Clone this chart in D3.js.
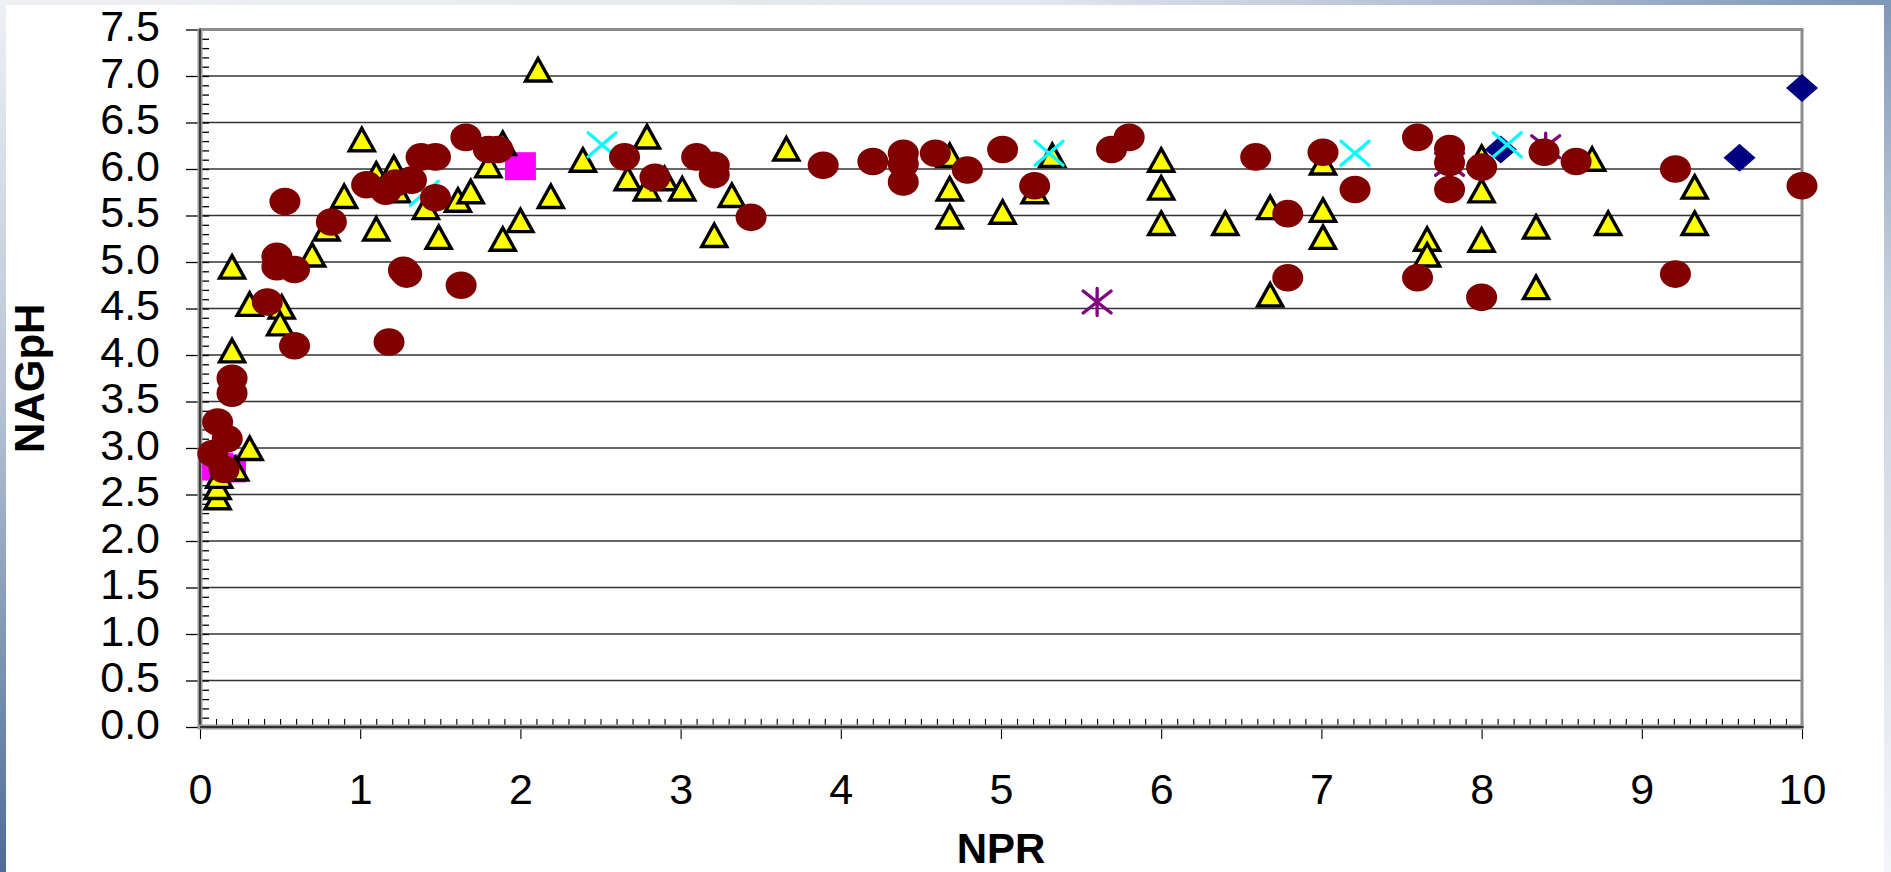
<!DOCTYPE html>
<html><head><meta charset="utf-8">
<script src="https://cdn.jsdelivr.net/npm/d3@7/dist/d3.min.js"></script>
<style>html,body{margin:0;padding:0;background:#fff;overflow:hidden}svg{display:block}</style>
</head><body>
<svg id="c" width="1891" height="872"></svg>
<script>
// ---- data ----
const xTickValues = [0,1,2,3,4,5,6,7,8,9,10];
const yTickValues = [0,0.5,1,1.5,2,2.5,3,3.5,4,4.5,5,5.5,6,6.5,7,7.5];
const xTitle = "NPR";
const yTitle = "NAGpH";

const diamondX = [8.12, 9.61, 10.0];
const diamondY = [6.21, 6.12, 6.87];

const squareX = [0.11, 0.19, 2.0];
const squareY = [2.80, 2.78, 6.03];

const triangleX = [0.11,0.11,0.12,0.22,0.31,0.20,0.20,0.31,0.51,0.50,0.70,0.79,0.90,1.01,1.10,1.21,1.23,1.10,1.41,1.49,1.61,1.69,1.89,1.80,2.00,1.89,2.19,2.11,2.39,2.79,2.67,2.79,2.90,3.01,3.32,3.21,3.66,4.68,4.68,4.68,5.01,5.21,5.32,6.00,6.00,6.00,6.40,6.68,6.68,7.01,7.01,7.01,7.66,7.66,8.00,8.00,8.00,8.34,8.34,8.69,8.79,9.33,9.33];
const triangleY = [2.47,2.58,2.70,2.78,3.00,4.05,4.95,4.55,4.52,4.34,5.08,5.36,5.71,6.32,5.95,6.02,5.77,5.36,5.59,5.27,5.67,5.76,6.28,6.04,5.45,5.25,5.71,7.07,6.10,6.35,5.90,5.79,5.90,5.79,5.72,5.29,6.22,6.15,5.79,5.49,5.54,5.76,6.15,6.10,5.80,5.42,5.42,5.59,4.65,6.07,5.56,5.27,5.25,5.08,6.13,5.77,5.24,5.38,4.73,6.11,5.42,5.81,5.42];

const crossX = [1.40, 2.51, 5.30, 7.21, 8.16];
const crossY = [5.74, 6.26, 6.17, 6.17, 6.26];

const starX = [5.60, 7.80, 8.40];
const starY = [4.57, 6.05, 6.24];

const circleX = [0.08,0.15,0.11,0.17,0.20,0.20,0.42,0.59,0.48,0.48,0.59,0.53,0.82,1.04,1.16,1.22,1.32,1.38,1.47,1.47,1.66,1.80,1.86,1.18,1.27,1.29,1.63,2.65,2.84,3.10,3.21,3.21,3.44,3.89,4.20,4.39,4.39,4.39,4.59,4.79,5.01,5.21,5.69,5.80,6.59,6.79,6.79,7.01,7.21,7.60,7.60,7.80,7.80,7.80,8.00,8.00,8.39,8.59,9.21,9.21,10.0];
const circleY = [2.94,2.77,3.28,3.10,3.59,3.75,4.57,4.10,5.06,4.95,4.92,5.65,5.43,5.83,5.76,5.85,5.88,6.13,6.13,5.69,6.34,6.21,6.21,4.14,4.91,4.87,4.75,6.13,5.91,6.13,6.04,5.94,5.48,6.04,6.08,6.17,6.05,5.86,6.17,5.99,6.21,5.82,6.21,6.34,6.13,5.52,4.83,6.18,5.78,6.34,4.83,6.22,6.07,5.78,6.02,4.62,6.18,6.08,6.00,4.87,5.82];

// ---- layout ----
const W = 1891, H = 872;
const mL = 200, mR = 1802, mT = 29.5, mB = 727;
const svg = d3.select("#c");
const defs = svg.append("defs");
function lin(id, x1,y1,x2,y2, stops){
  const g = defs.append("linearGradient").attr("id",id).attr("x1",x1).attr("y1",y1).attr("x2",x2).attr("y2",y2);
  stops.forEach(s=>g.append("stop").attr("offset",s[0]).attr("stop-color",s[1]));
}
lin("gl",0,0,0,1,[[0,"#eef1f5"],[0.45,"#b7c4d6"],[1,"#4d6d98"]]);
lin("gt",0,0,1,0,[[0,"#eef0f3"],[0.55,"#e2e6ee"],[1,"#7d95b6"]]);
lin("gr",0,0,0,1,[[0,"#7f97b8"],[0.35,"#c9d3e0"],[1,"#f3f5f9"]]);

svg.append("rect").attr("width",W).attr("height",H).attr("fill","#fff");
svg.append("rect").attr("x",0).attr("y",0).attr("width",6).attr("height",H).attr("fill","url(#gl)");
svg.append("rect").attr("x",0).attr("y",0).attr("width",W).attr("height",5).attr("fill","url(#gt)");
svg.append("rect").attr("x",1884).attr("y",0).attr("width",7).attr("height",H).attr("fill","url(#gr)");

const x = d3.scaleLinear().domain([0,10]).range([mL,mR]);
const y = d3.scaleLinear().domain([0,7.5]).range([mB,mT]);

const font = "'Liberation Sans', Arial, sans-serif";

// gridlines
svg.append("g").selectAll("line").data(yTickValues.filter(v=>v>0 && v<7.5)).join("line")
  .attr("x1",mL).attr("x2",mR).attr("y1",d=>y(d)).attr("y2",d=>y(d))
  .attr("stroke","#333").attr("stroke-width",1.3);

// minor ticks
const minorY = d3.range(0,76).map(i=>i/10);
const minorX = d3.range(0,101).map(i=>i/10);
svg.append("g").attr("transform",`translate(${mL},0)`)
  .call(d3.axisLeft(y).tickValues(minorY).tickSize(-9).tickFormat(""))
  .call(g=>g.select(".domain").remove())
  .call(g=>g.selectAll("line").attr("stroke","#000").attr("stroke-width",1.3));
svg.append("g").attr("transform",`translate(0,${mB})`)
  .call(d3.axisBottom(x).tickValues(minorX).tickSize(-8).tickFormat(""))
  .call(g=>g.select(".domain").remove())
  .call(g=>g.selectAll("line").attr("stroke","#000").attr("stroke-width",1.1));

// borders (top/right gray)
svg.append("line").attr("x1",mL).attr("x2",mR+1.5).attr("y1",mT).attr("y2",mT).attr("stroke","#8c8c8c").attr("stroke-width",3);
svg.append("line").attr("x1",mR).attr("x2",mR).attr("y1",mT).attr("y2",mB).attr("stroke","#8c8c8c").attr("stroke-width",3);

// major axes
const yAxis = svg.append("g").attr("transform",`translate(${mL},0)`)
  .call(d3.axisLeft(y).tickValues(yTickValues).tickSize(14).tickPadding(26).tickFormat(d3.format(".1f")));
yAxis.select(".domain").remove();
yAxis.selectAll("line").attr("stroke","#000").attr("stroke-width",1.3);
yAxis.selectAll("text").attr("font-family",font).attr("font-size",43).attr("fill","#000").attr("dy","0.26em");

const xAxis = svg.append("g").attr("transform",`translate(0,${mB})`)
  .call(d3.axisBottom(x).tickValues(xTickValues).tickSize(12).tickPadding(34).tickFormat(d3.format("d")));
xAxis.select(".domain").remove();
xAxis.selectAll("line").attr("stroke","#000").attr("stroke-width",1.1);
xAxis.selectAll("text").attr("font-family",font).attr("font-size",43).attr("fill","#000");

// axis lines
svg.append("line").attr("x1",mL).attr("x2",mL).attr("y1",mT-1).attr("y2",mB+2).attr("stroke","#9a9a9a").attr("stroke-width",5);
svg.append("line").attr("x1",mL).attr("x2",mL).attr("y1",mT-1).attr("y2",mB).attr("stroke","#303030").attr("stroke-width",1.8);
svg.append("line").attr("x1",mL-2).attr("x2",mR+1.5).attr("y1",mB).attr("y2",mB).attr("stroke","#9a9a9a").attr("stroke-width",5);
svg.append("line").attr("x1",mL).attr("x2",mR+1.5).attr("y1",mB).attr("y2",mB).attr("stroke","#303030").attr("stroke-width",1.8);

// titles
svg.append("text").attr("x",(mL+mR)/2).attr("y",863).attr("text-anchor","middle")
  .attr("font-family",font).attr("font-size",42).attr("font-weight","bold").text(xTitle);
svg.append("text").attr("transform",`translate(44,${(mT+mB)/2}) rotate(-90)`).attr("text-anchor","middle")
  .attr("font-family",font).attr("font-size",42).attr("font-weight","bold").text(yTitle);

// ---- series ----
const zip = (a,b)=>a.map((v,i)=>[v,b[i]]);
const plot = svg.append("g");

plot.append("g").selectAll("path").data(zip(diamondX,diamondY)).join("path")
  .attr("transform",d=>`translate(${x(d[0])},${y(d[1])})`)
  .attr("d","M0,-14L16,0L0,14L-16,0Z").attr("fill","#000080");

plot.append("g").selectAll("rect").data(zip(squareX,squareY)).join("rect")
  .attr("x",d=>x(d[0])-15.5).attr("y",d=>y(d[1])-14).attr("width",31).attr("height",28).attr("fill","#FF00FF");

plot.append("g").selectAll("path").data(zip(triangleX,triangleY)).join("path")
  .attr("transform",d=>`translate(${x(d[0])},${y(d[1])})`)
  .attr("d","M0,-11L12.5,11.5L-12.5,11.5Z").attr("fill","#FFFF00")
  .attr("stroke","#000").attr("stroke-width",3.4).attr("stroke-linejoin","miter");

plot.append("g").selectAll("path").data(zip(crossX,crossY)).join("path")
  .attr("transform",d=>`translate(${x(d[0])},${y(d[1])})`)
  .attr("d","M-14,-12L14,12M-14,12L14,-12").attr("fill","none")
  .attr("stroke","#00FFFF").attr("stroke-width",3.3).attr("stroke-linecap","round");

plot.append("g").selectAll("path").data(zip(starX,starY)).join("path")
  .attr("transform",d=>`translate(${x(d[0])},${y(d[1])})`)
  .attr("d","M-14,-11L14,11M-14,11L14,-11M0,-13.5L0,13.5").attr("fill","none")
  .attr("stroke","#800080").attr("stroke-width",3.3).attr("stroke-linecap","round");

plot.append("g").selectAll("ellipse").data(zip(circleX,circleY)).join("ellipse")
  .attr("cx",d=>x(d[0])).attr("cy",d=>y(d[1])).attr("rx",15.5).attr("ry",13.8).attr("fill","#800000");
</script>
</body></html>
